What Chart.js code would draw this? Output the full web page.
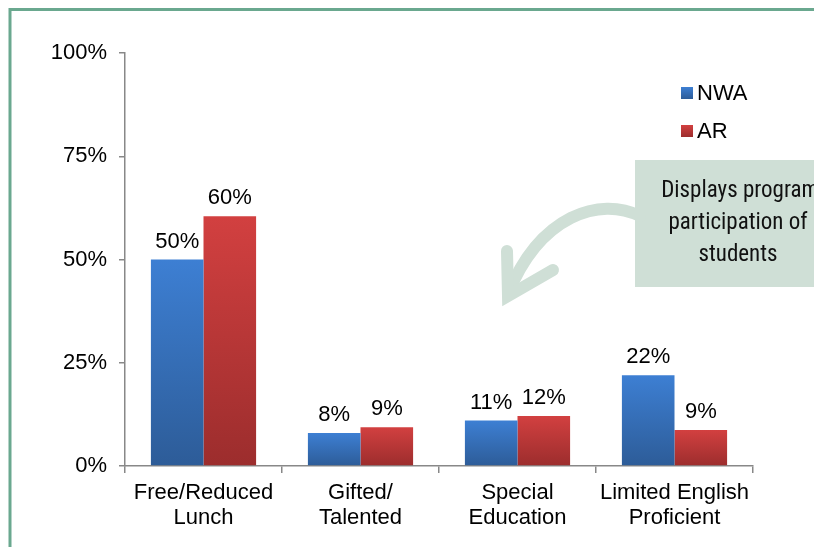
<!DOCTYPE html>
<html>
<head>
<meta charset="utf-8">
<script src="https://cdn.jsdelivr.net/npm/chart.js@4"></script>
<style>
  html, body { margin: 0; padding: 0; background: #fff; }
  #wrap { width: 814px; height: 547px; position: relative; }
</style>
</head>
<body>
<div id="wrap"><canvas id="progChart" width="814" height="547"></canvas></div>
<script>
const categories = [['Free/Reduced', 'Lunch'], ['Gifted/', 'Talented'], ['Special', 'Education'], ['Limited English', 'Proficient']];
const nwaValues = [50, 8, 11, 22];
const arValues = [60.5, 9.4, 12.1, 8.7];
const nwaLabels = ['50%', '8%', '11%', '22%'];
const arLabels = ['60%', '9%', '12%', '9%'];
const yTicks = [0, 25, 50, 75, 100];

const FONT = '"Liberation Sans", Arial, sans-serif';
const TICK_SIZE = 22;
const VALUE_SIZE = 22;

function barGradient(top, bottom) {
    return function (c) {
        const chart = c.chart;
        if (!chart.chartArea || c.type !== 'data') return top;
        const y = chart.scales.y;
        const yTop = y.getPixelForValue(c.raw);
        const yBot = y.getPixelForValue(0);
        const g = chart.ctx.createLinearGradient(0, yTop, 0, yBot);
        g.addColorStop(0, top);
        g.addColorStop(1, bottom);
        return g;
    };
}

// frame, callout box, arrow, value labels and legend
const decor = {
    id: 'decor',
    beforeDraw(chart) {
        const ctx = chart.ctx;
        ctx.save();
        ctx.strokeStyle = '#6aa88f';
        ctx.lineWidth = 3;
        ctx.beginPath();
        ctx.moveTo(10, 547);
        ctx.lineTo(10, 9.5);
        ctx.lineTo(814, 9.5);
        ctx.stroke();
        ctx.restore();
    },
    afterDraw(chart) {
        const ctx = chart.ctx;
        ctx.save();
        ctx.fillStyle = '#cfdfd6';
        ctx.fillRect(635, 160, 180, 127);
        ctx.fillStyle = '#111';
        ctx.font = '23px "Liberation Sans Narrow", "Arial Narrow", "Roboto Condensed", sans-serif';
        ctx.textAlign = 'center';
        ctx.textBaseline = 'middle';
        ctx.fillText('Displays program', 740, 191);
        ctx.fillText('participation of', 738, 223);
        ctx.fillText('students', 738, 255);

        ctx.strokeStyle = '#cfdfd6';
        ctx.lineWidth = 12;
        ctx.lineCap = 'round';
        ctx.beginPath();
        ctx.moveTo(640, 216);
        ctx.bezierCurveTo(600, 196, 540, 215, 508, 294);
        ctx.stroke();
        ctx.beginPath();
        ctx.moveTo(507, 251);
        ctx.lineTo(508, 296);
        ctx.lineTo(553, 270);
        ctx.stroke();
        ctx.restore();
    },
    afterDatasetsDraw(chart) {
        const ctx = chart.ctx;
        ctx.save();
        ctx.font = VALUE_SIZE + 'px ' + FONT;
        ctx.fillStyle = '#000';
        ctx.textAlign = 'center';
        ctx.textBaseline = 'bottom';
        const labelSets = [nwaLabels, arLabels];
        chart.data.datasets.forEach((ds, i) => {
            chart.getDatasetMeta(i).data.forEach((bar, j) => {
                ctx.fillText(labelSets[i][j], bar.x, bar.y - 7);
            });
        });
        // legend
        ctx.font = TICK_SIZE + 'px ' + FONT;
        const legendY = [93, 131];
        chart.data.datasets.forEach((ds, i) => {
            const g = ctx.createLinearGradient(0, legendY[i] - 6, 0, legendY[i] + 6);
            g.addColorStop(0, i === 0 ? '#3d7fd3' : '#d24040');
            g.addColorStop(1, i === 0 ? '#2d5c98' : '#9c2d2d');
            ctx.fillStyle = g;
            ctx.fillRect(681, legendY[i] - 6, 12, 12);
            ctx.fillStyle = '#000';
            ctx.textAlign = 'left';
            ctx.textBaseline = 'middle';
            ctx.fillText(ds.label, 697, legendY[i] + 1);
        });
        ctx.restore();
    }
};

new Chart(document.getElementById('progChart'), {
    type: 'bar',
    data: {
        labels: categories,
        datasets: [
            { label: 'NWA', data: nwaValues, backgroundColor: barGradient('#3d7fd3', '#2d5c98'),
              categoryPercentage: 0.67, barPercentage: 1 },
            { label: 'AR', data: arValues, backgroundColor: barGradient('#d24040', '#9c2d2d'),
              categoryPercentage: 0.67, barPercentage: 1 }
        ]
    },
    options: {
        responsive: false,
        animation: false,
        layout: { padding: { top: 53, right: 61, left: 0, bottom: 0 } },
        plugins: { legend: { display: false }, tooltip: { enabled: false } },
        scales: {
            y: {
                min: 0, max: 100,
                afterBuildTicks(s) { s.ticks = yTicks.map(v => ({ value: v })); },
                afterFit(s) { s.width = 125; },
                border: { color: '#888', width: 1.5 },
                grid: { drawOnChartArea: false, tickLength: 6, color: '#888', lineWidth: 1.5 },
                ticks: { callback: v => v + '%', color: '#000', font: { size: TICK_SIZE, family: FONT }, padding: 12 }
            },
            x: {
                afterFit(s) { s.height = 81; },
                border: { color: '#888', width: 1.5 },
                grid: { drawOnChartArea: false, tickLength: 7, color: '#888', lineWidth: 1.5, offset: true },
                ticks: { color: '#000', font: { size: TICK_SIZE, family: FONT, lineHeight: 1.14 }, padding: 7, maxRotation: 0 }
            }
        }
    },
    plugins: [decor]
});
</script>
</body>
</html>
